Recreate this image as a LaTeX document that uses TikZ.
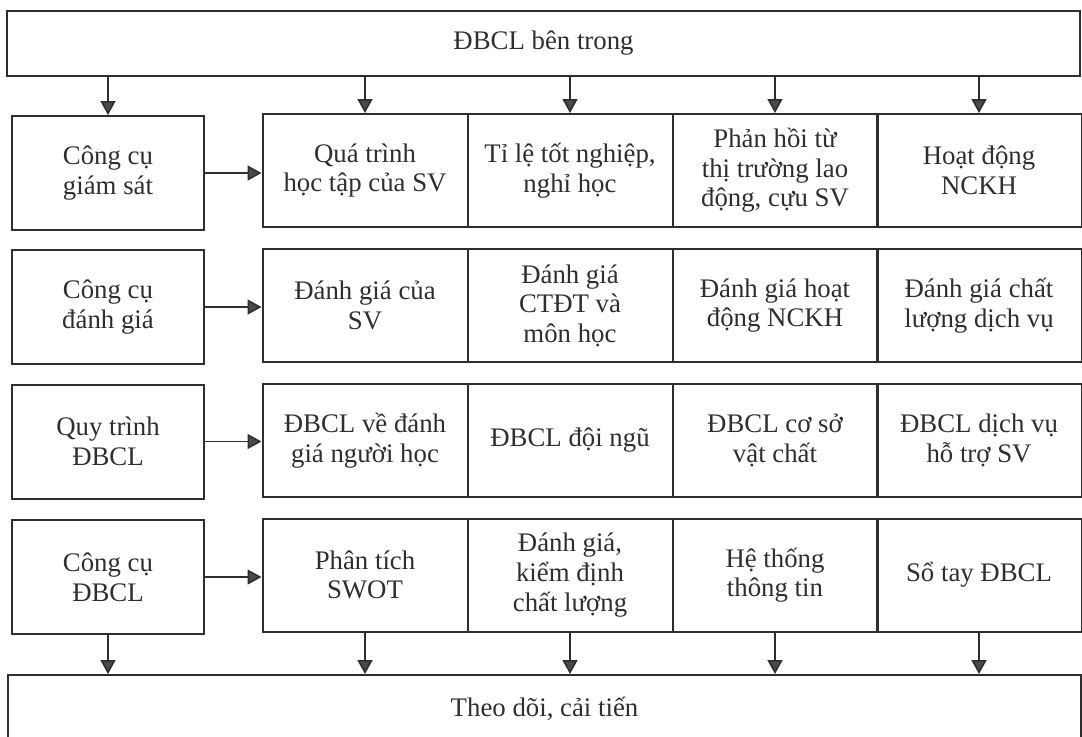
\documentclass[tikz,border=0pt]{standalone}
\usepackage{fontspec}
\setmainfont{Liberation Serif}
\usepackage{xcolor}
\usepackage{tikz}
\usetikzlibrary{calc}
\usetikzlibrary{arrows.meta}
\definecolor{ink}{HTML}{2E2E2E}
\definecolor{tip}{HTML}{4A4A4A}
\tikzset{
	box/.style={
			draw=ink, line width=1pt, rectangle, inner sep=0pt,
			align=center, text=ink,
			font=\fontsize{13.4pt}{14.8pt}\selectfont
		},
	side/.style={box, minimum width=96pt, minimum height=57pt},
	cell/.style={box, minimum width=102.5pt, minimum height=56.5pt},
	wide/.style={box, minimum width=536.5pt},
	arr/.style={
			draw=ink, line width=0.8pt,
			-{Triangle[length=7pt, width=7.5pt, fill=tip]}
		}
}

\begin{document}
\begin{tikzpicture}[x=0.5pt, y=-0.5pt]
	\useasboundingbox (0,0) rectangle (1082,736);
	\clip (0,0) rectangle (1082,736);

	\node[wide, minimum height=32.5pt] (top) at (543.5,43.5) {ĐBCL bên trong};
	\node[wide, minimum height=34pt] (bot) at (544.5,709) {Theo dõi, cải tiến};

	\node[side] (l1) at (108,173) {Công cụ\\giám sát};
	\node[side] (l2) at (108,307) {Công cụ\\đánh giá};
	\node[side] (l3) at (108,441.5) {Quy trình\\ĐBCL};
	\node[side] (l4) at (108,577) {Công cụ\\ĐBCL};

	\node[cell] (c11) at (365,170.5) {Quá trình\\học tập của SV};
	\node[cell] (c12) at (570,170.5) {Tỉ lệ tốt nghiệp,\\nghỉ học};
	\node[cell] (c13) at (775,170.5) {Phản hồi từ\\thị trường lao\\động, cựu SV};
	\node[cell] (c14) at (979,170.5) {Hoạt động\\NCKH};

	\node[cell] (c21) at (365,305.5) {Đánh giá của\\SV};
	\node[cell] (c22) at (570,305.5) {Đánh giá\\CTĐT và\\môn học};
	\node[cell] (c23) at (775,305.5) {Đánh giá hoạt\\động NCKH};
	\node[cell] (c24) at (979,305.5) {Đánh giá chất\\lượng dịch vụ};

	\node[cell] (c31) at (365,440.5) {ĐBCL về đánh\\giá người học};
	\node[cell] (c32) at (570,440.5) {ĐBCL đội ngũ};
	\node[cell] (c33) at (775,440.5) {ĐBCL cơ sở\\vật chất};
	\node[cell] (c34) at (979,440.5) {ĐBCL dịch vụ\\hỗ trợ SV};

	\node[cell] (c41) at (365,575) {Phân tích\\SWOT};
	\node[cell] (c42) at (570,575) {Đánh giá,\\kiểm định\\chất lượng};
	\node[cell] (c43) at (775,575) {Hệ thống\\thông tin};
	\node[cell] (c44) at (979,575) {Sổ tay ĐBCL};

	% from the top box into the first row
	\foreach \n in {l1,c11,c12,c13,c14}
		\draw[arr] (top.south -| \n.north) -- (\n.north);
	% left column into the grid
	\foreach \r in {1,...,4}
		\draw[arr] (l\r.east) -- (l\r.east -| c\r1.west);
	% last row down to the bottom box
	\foreach \n in {l4,c41,c42,c43,c44}
		\draw[arr] (\n.south) -- (\n.south |- bot.north);
\end{tikzpicture}
\end{document}
